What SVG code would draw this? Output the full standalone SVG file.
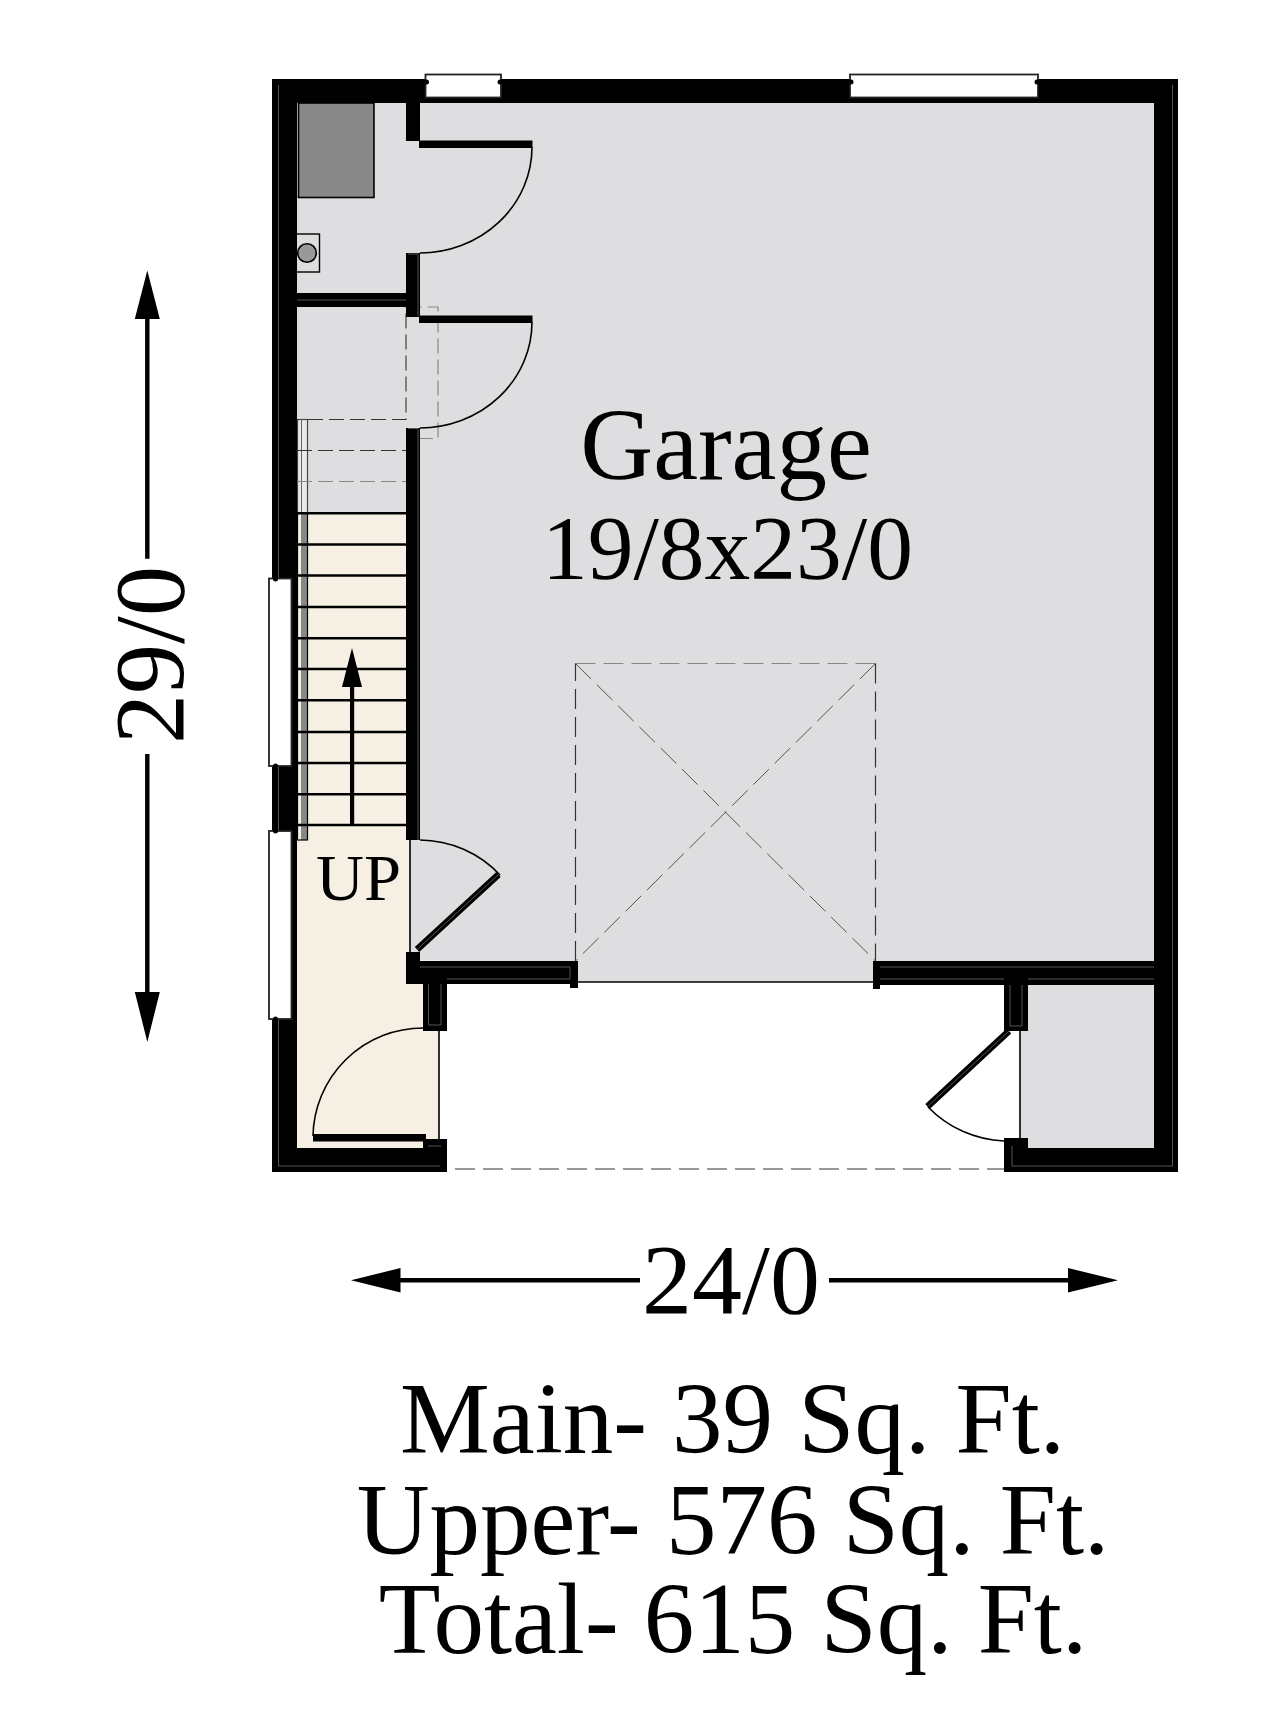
<svg xmlns="http://www.w3.org/2000/svg" width="1264" height="1724" viewBox="0 0 1264 1724">
<style>
.w{fill:#000}
.in{fill:none;stroke:#555;stroke-width:1}
.ln{fill:none;stroke:#000;stroke-width:1.6}
.win{fill:#fff;stroke:#222;stroke-width:1.8}
.tr{stroke:#000;stroke-width:2.4}
.da{fill:none;stroke:#333;stroke-width:1.1;stroke-dasharray:15 6}
.dg{fill:none;stroke:#888;stroke-width:1.2;stroke-dasharray:15 6}
.dl{fill:none;stroke:#333;stroke-width:1.2;stroke-dasharray:20 8}
.dt{fill:none;stroke:#888;stroke-width:1.2;stroke-dasharray:20 8}
.dd{fill:none;stroke:#444;stroke-width:.9;stroke-dasharray:22 8}
.sh{stroke:#000;stroke-width:4.4;fill:none}
.gl{stroke:#555;stroke-width:1}
.t{font-family:"Liberation Serif","Times New Roman",serif;fill:#000;text-anchor:middle}
</style>
<rect width="1264" height="1724" fill="#fff"/>
<g id="floors">
<path fill="#dedee0" d="M297 103H1154V982H410V513H297Z"/>
<path fill="#dedee0" d="M1028 985H1154V1148H1020V1031H1028Z"/>
<path fill="#f5f0e3" d="M297 513H406V840H410V960H439V1148H297Z"/>
</g>
<g id="appliances">
<rect x="298.5" y="103" width="75.5" height="94.5" fill="#888" stroke="#000" stroke-width="1.6"/>
<rect x="296" y="234" width="23.5" height="38" fill="none" stroke="#000" stroke-width="1.4"/>
<circle cx="307" cy="253" r="9.3" fill="#999" stroke="#000" stroke-width="1.6"/>
</g>
<g id="stairs">
<rect x="297.5" y="419.5" width="10" height="94" fill="#e9e9e9" stroke="#444" stroke-width="1.2"/>
<line x1="301.5" y1="419.5" x2="301.5" y2="513" stroke="#666" stroke-width="1"/>
<rect x="301" y="513" width="6.5" height="327" fill="#888"/>
<rect x="297.5" y="513" width="10" height="327" fill="none" stroke="#000" stroke-width="1.2"/>
<path class="da" d="M308 419.5H406V306.5M297 450.5H406"/>
<path class="dg" d="M297 481.5H406M406.5 307H438V438.5H420"/>
<path class="tr" d="M297 513.3H406M297 544.5H406M297 575.5H406M297 607H406M297 638.3H406M297 669H406M297 700.3H406M297 732H406M297 763H406M297 794.3H406M297 825H406"/>
<rect x="350" y="686" width="4.2" height="139"/>
<polygon points="352,648 342,687 362,687"/>
</g>
<g id="garage-door-outline">
<path class="dl" d="M575.5 961V663.5M875.5 663.5V961"/>
<path class="dt" d="M575.5 663.5H875.5"/>
<path class="dd" d="M575.5 663.5L875.5 961M875.5 663.5L575.5 961"/>
<path class="ln" d="M578 982H873"/>
<path class="dl" d="M455 1169H1004"/>
</g>
<g id="walls">
<rect class="w" x="272" y="79" width="906" height="24"/>
<rect class="w" x="272" y="79" width="25" height="1093"/>
<rect class="w" x="1154" y="79" width="24" height="1093"/>
<rect class="w" x="272" y="1148" width="175" height="24"/>
<rect class="w" x="423" y="1139" width="24" height="33"/>
<rect class="w" x="1004" y="1148" width="174" height="24"/>
<rect class="w" x="1004" y="1138" width="24" height="34"/>
<rect class="w" x="406" y="103" width="14" height="38"/>
<rect class="w" x="406" y="253" width="14" height="64"/>
<rect class="w" x="297" y="293" width="109" height="14"/>
<rect class="w" x="406" y="428" width="14" height="412"/>
<rect class="w" x="406" y="952" width="14" height="32"/>
<rect class="w" x="406" y="961" width="172" height="23"/>
<rect class="w" x="570" y="961" width="8" height="27"/>
<rect class="w" x="423" y="984" width="24" height="47"/>
<rect class="w" x="873" y="961" width="281" height="24"/>
<rect class="w" x="873" y="961" width="7" height="28"/>
<rect class="w" x="1004" y="985" width="24" height="46"/>
<path class="in" d="M278.5 85V578M278.5 766V831M278.5 1019V1166H440M1172.5 85V1166H1012V1146M297 300H406M408 428.5H418V840M408 254H418V316M428.5 984V1025H441V984M1010 985V1026H1022V985M880 967H1154M880 979H1004M1028 979H1154M420 967H570V979H447M428 1146H441"/>
</g>
<g id="windows">
<rect class="win" x="425.5" y="74.5" width="75.5" height="23"/>
<rect class="win" x="850" y="74.5" width="188" height="23"/>
<rect class="win" x="269" y="578.5" width="22.5" height="187.5"/>
<rect class="win" x="269" y="831" width="22.5" height="188"/>
<circle cx="426.5" cy="82" r="2.5"/><circle cx="500" cy="82" r="2.5"/>
<circle cx="851" cy="82" r="2.5"/><circle cx="1037" cy="82" r="2.5"/>
<circle cx="275.5" cy="579" r="2.5"/><circle cx="275.5" cy="766" r="2.5"/>
<circle cx="275.5" cy="831" r="2.5"/><circle cx="275.5" cy="1019" r="2.5"/>
</g>
<g id="doors">
<rect class="w" x="419" y="140.5" width="113.5" height="7.5"/>
<path class="ln" d="M532 147A112 106 0 0 1 420 253"/>
<rect class="w" x="419" y="315.5" width="113.5" height="7.5"/>
<path class="ln" d="M532 322A112 106 0 0 1 420 428"/>
<path class="ln" d="M420 840A111 111 0 0 1 500 875M410 840V952"/>
<line x1="417" y1="949.5" x2="498.5" y2="874.5" stroke="#000" stroke-width="6.5"/>
<line class="gl" x1="417" y1="949.5" x2="498.5" y2="874.5"/>
<path class="ln" d="M423 1028A110 110 0 0 0 313 1136M439 1031V1140"/>
<rect class="w" x="313" y="1134" width="113" height="7.5"/>
<line x1="1009" y1="1031" x2="927.5" y2="1106.5" stroke="#000" stroke-width="6.5"/>
<line class="gl" x1="1009" y1="1031" x2="927.5" y2="1106.5"/>
<path class="ln" d="M928 1107A112 112 0 0 0 1004 1141M1020 1031V1140"/>
</g>
<g id="dimensions">
<path class="sh" d="M147.3 319V558.7M147.3 754V992M400 1280.3H640M829 1280.3H1069"/>
<polygon points="147.3,270.4 134.8,319 159.8,319"/>
<polygon points="147.3,1042 134.8,992 159.8,992"/>
<polygon points="351,1280.3 400.5,1268 400.5,1292.6"/>
<polygon points="1118,1280.3 1068,1268 1068,1292.6"/>
<text class="t" font-size="100" transform="translate(182.5 655) rotate(-90)">29/0</text>
<text class="t" font-size="100" x="731" y="1312.5">24/0</text>
</g>
<g id="labels">
<text class="t" font-size="101" x="726" y="479">Garage</text>
<text class="t" font-size="91.5" x="727.5" y="579">19/8x23/0</text>
<text class="t" font-size="66.5" x="358.5" y="900">UP</text>
<text class="t" font-size="101" x="732.5" y="1453">Main- 39 Sq. Ft.</text>
<text class="t" font-size="101" x="733" y="1554">Upper- 576 Sq. Ft.</text>
<text class="t" font-size="101" x="733" y="1653">Total- 615 Sq. Ft.</text>
</g>
</svg>
